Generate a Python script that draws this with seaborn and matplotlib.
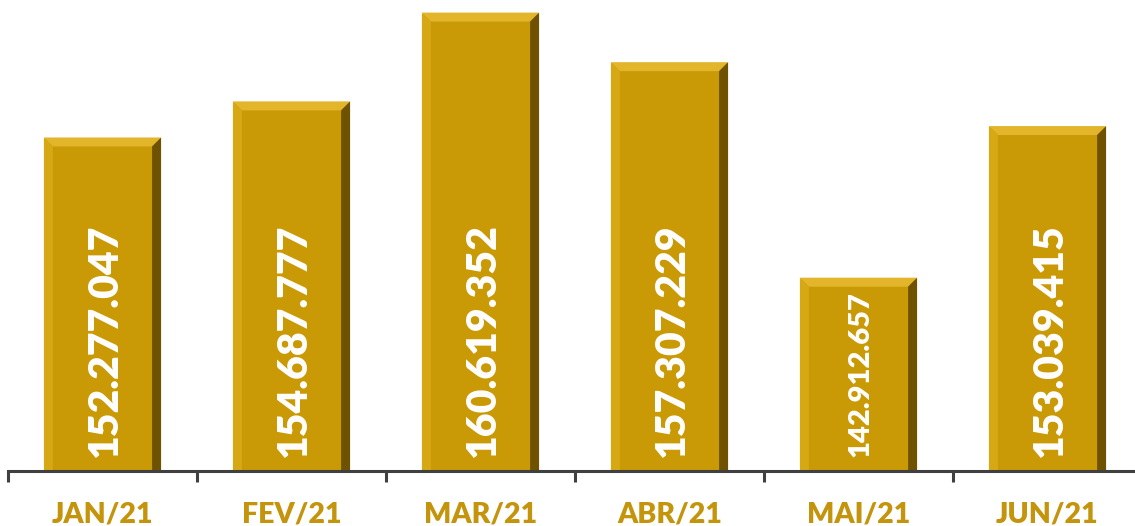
import matplotlib
matplotlib.use("Agg")
import matplotlib.pyplot as plt
from matplotlib.patches import Polygon
import seaborn as sns
import pandas as pd

months = ["JAN/21", "FEV/21", "MAR/21", "ABR/21", "MAI/21", "JUN/21"]
values = [152277047, 154687777, 160619352, 157307229, 142912657, 153039415]
value_labels = ["152.277.047", "154.687.777", "160.619.352", "157.307.229", "142.912.657", "153.039.415"]
label_sizes = [29.5, 29.5, 29.5, 29.5, 21, 29.5]

sns.set_theme(style="white")
plt.rcParams['font.family'] = ['Lato', 'DejaVu Sans']

GOLD = "#C99A06"
LABEL_GOLD = "#C4950C"
AXIS = "#404040"

df = pd.DataFrame({"month": months, "value": values})

fig = plt.figure(figsize=(11.35, 5.26), dpi=100)
ax = fig.add_axes([8 / 1135, 55 / 526, 1134 / 1135, 471 / 526])

sns.barplot(data=df, x="month", y="value", color=GOLD, saturation=1, width=0.62, ax=ax, zorder=2)

ax.set_ylim(130_000_000, 161_460_000)
ax.set_xlim(-0.5, len(months) - 0.5)
ax.set_xlabel("")
ax.set_ylabel("")
ax.set_yticks([])
for s in ["top", "right", "left"]:
    ax.spines[s].set_visible(False)
ax.spines["bottom"].set_color(AXIS)
ax.spines["bottom"].set_linewidth(2.2)
ax.spines["bottom"].set_zorder(5)

ax.set_xticks(range(len(months)))
ax.set_xticklabels(months, fontsize=20.5, fontweight="heavy", color=LABEL_GOLD)
ax.tick_params(axis="x", which="major", bottom=True, length=0, pad=22)
ax.set_xticks([i - 0.5 for i in range(len(months) + 1)], minor=True)
ax.tick_params(axis="x", which="minor", bottom=True, length=8, width=2.2, color=AXIS, direction="out")

fig.canvas.draw()
# bevel edges derived from bar patches
inv = ax.transData.inverted()
bev = 9  # pixels
for p in list(ax.patches):
    x0, y0 = p.get_x(), p.get_y()
    x1, y1 = x0 + p.get_width(), y0 + p.get_height()
    (px0, py0) = ax.transData.transform((x0, y0))
    (px1, py1) = ax.transData.transform((x1, y1))
    outer = [(px0, py0), (px1, py0), (px1, py1), (px0, py1)]
    inner = [(px0 + bev, py0 + bev), (px1 - bev, py0 + bev), (px1 - bev, py1 - bev), (px0 + bev, py1 - bev)]
    faces = [
        ([outer[3], outer[2], inner[2], inner[3]], "#E3B52A"),  # top
        ([outer[0], outer[3], inner[3], inner[0]], "#D6A814"),  # left
        ([outer[1], outer[2], inner[2], inner[1]], "#6E5200"),  # right
        ([outer[0], outer[1], inner[1], inner[0]], "#9C7600"),  # bottom
    ]
    for pts, col in faces:
        dpts = [tuple(inv.transform(pt)) for pt in pts]
        ax.add_patch(Polygon(dpts, closed=True, facecolor=col, edgecolor="none", zorder=3))

for i, (lab, fs) in enumerate(zip(value_labels, label_sizes)):
    ax.annotate(lab, xy=(i, 130_000_000), xytext=(2, 14), textcoords="offset pixels",
                rotation=90, ha="center", va="bottom", color="white",
                fontsize=fs, fontweight="heavy", zorder=6)

fig.savefig("out.png", dpi=100, facecolor="white")
